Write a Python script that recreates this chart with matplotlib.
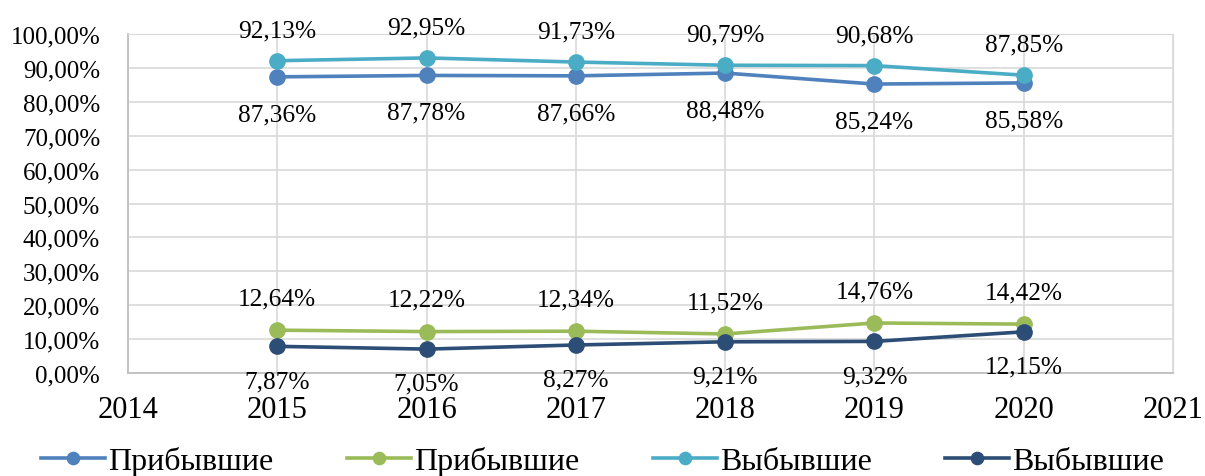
import matplotlib

matplotlib.use("Agg")
import matplotlib.pyplot as plt
from matplotlib.ticker import FuncFormatter, MultipleLocator

YEARS = [2015, 2016, 2017, 2018, 2019, 2020]
ARRIVED_MAIN = [87.36, 87.78, 87.66, 88.48, 85.24, 85.58]
ARRIVED_MINOR = [12.64, 12.22, 12.34, 11.52, 14.76, 14.42]
LEFT_MAIN = [92.13, 92.95, 91.73, 90.79, 90.68, 87.85]
LEFT_MINOR = [7.87, 7.05, 8.27, 9.21, 9.32, 12.15]

# (values, legend label, colour, label offset in points)
SERIES = (
    (ARRIVED_MAIN, "Прибывшие", "#4F81BD", -27),
    (ARRIVED_MINOR, "Прибывшие", "#9BBB59", 23),
    (LEFT_MAIN, "Выбывшие", "#4BACC6", 22),
    (LEFT_MINOR, "Выбывшие", "#2C4D75", -25),
)


def pct(value: float) -> str:
    return f"{value:.2f}".replace(".", ",") + "%"


plt.rcParams.update({"font.family": ["Liberation Serif", "DejaVu Serif"]})

fig = plt.figure(figsize=(12.05, 4.77), dpi=100, facecolor="white")
ax = fig.add_axes([0.1062, 0.2159, 0.8672, 0.7107])

for values, label, color, offset in SERIES:
    ax.plot(YEARS, values, color=color, linewidth=2.6, marker="o",
            markersize=11, label=label, zorder=3)
    for year, value in zip(YEARS, values):
        ax.annotate(pct(value), (year, value), xytext=(0, offset),
                    textcoords="offset points", ha="center", va="center",
                    fontsize=18.3, color="black")

ax.set_xlim(2014, 2021)
ax.set_ylim(0, 100)
ax.set_xticks(range(2014, 2022))
ax.yaxis.set_major_locator(MultipleLocator(10))
ax.yaxis.set_major_formatter(FuncFormatter(lambda v, _: pct(v)))
ax.grid(color="#D9D9D9", linewidth=1.2)
ax.set_axisbelow(True)
for side in ("top", "right"):
    ax.spines[side].set_color("#D9D9D9")
for side in ("left", "bottom"):
    ax.spines[side].set_color("#BFBFBF")
    ax.spines[side].set_linewidth(1.3)
ax.tick_params(axis="y", length=0, labelsize=18, pad=20)
ax.tick_params(axis="x", length=0, labelsize=22, pad=16)

fig.legend(loc="center", bbox_to_anchor=(0.5, 0.032), ncol=4, frameon=False,
           fontsize=23, handlelength=2.0, handletextpad=0.1, columnspacing=2.3,
           markerscale=0.8)

fig.savefig("out.png", dpi=100)
